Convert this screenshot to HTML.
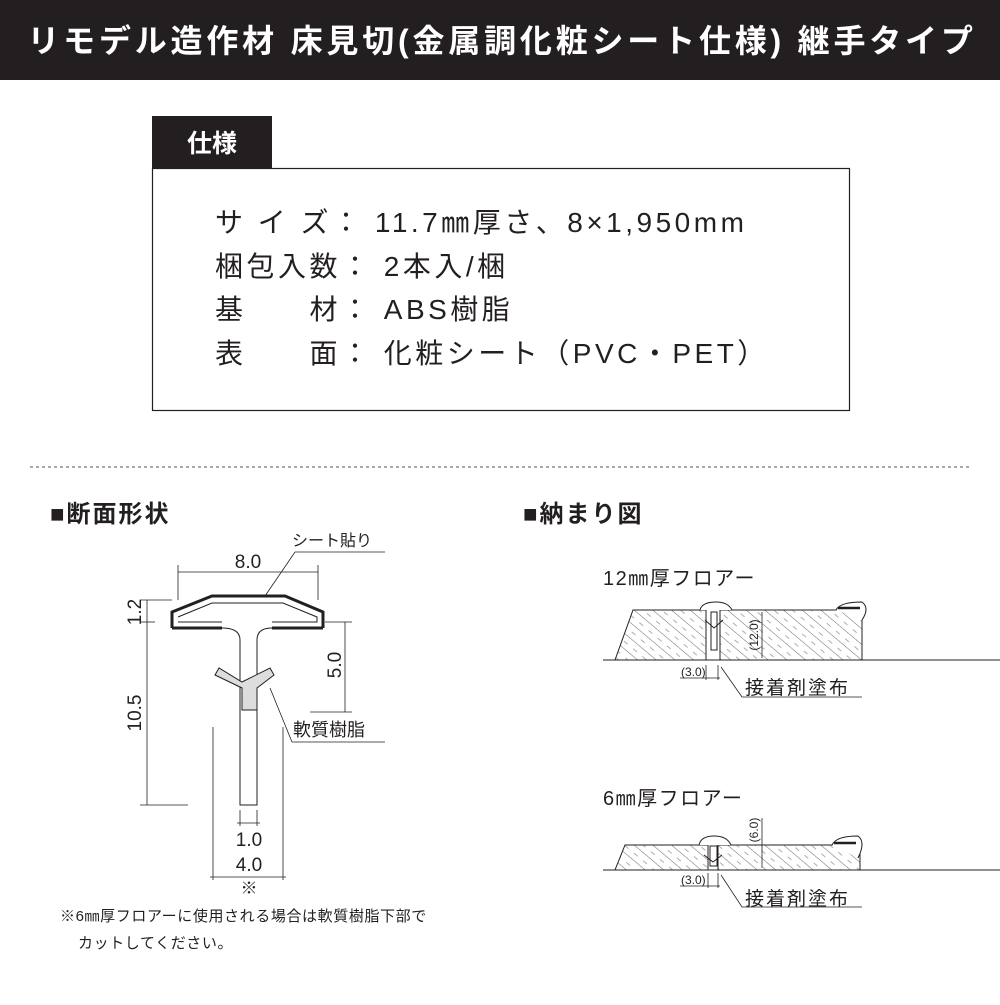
<!DOCTYPE html>
<html><head><meta charset="utf-8"><style>
body{margin:0;width:1000px;height:1000px;background:#fff;overflow:hidden;font-family:"Liberation Sans","Noto Sans CJK JP",sans-serif}
</style></head><body>
<svg width="1000" height="1000" viewBox="0 0 1000 1000" xmlns="http://www.w3.org/2000/svg" font-family="Liberation Sans, Noto Sans CJK JP, sans-serif">
<defs>
<pattern id="h" width="12" height="12" patternUnits="userSpaceOnUse" patternTransform="rotate(-50)">
<line x1="0" y1="0" x2="0" y2="12" stroke="#444" stroke-width="0.8"/>
<line x1="6" y1="2" x2="6" y2="7" stroke="#777" stroke-width="0.6"/>
</pattern>
</defs>
<rect x="0" y="0" width="1000" height="80" fill="#231f20"/>
<text x="502" y="52" text-anchor="middle" fill="#fff" font-size="32" font-weight="bold" letter-spacing="3.8">リモデル造作材 床見切(金属調化粧シート仕様) 継手タイプ</text>

<rect x="152" y="116" width="120" height="52" fill="#231f20"/>
<text x="212" y="152" text-anchor="middle" fill="#fff" font-size="25" font-weight="bold">仕様</text>
<rect x="152.5" y="168.5" width="697" height="242" fill="none" stroke="#231f20" stroke-width="1.2"/>
<g font-size="28" fill="#231f20" letter-spacing="3.5">
<text x="215" y="232">サ イ ズ： 11.7㎜厚さ、8×1,950mm</text>
<text x="215" y="276">梱包入数： 2本入/梱</text>
<text x="215" y="319">基　　材： ABS樹脂</text>
<text x="215" y="363">表　　面： 化粧シート（PVC・PET）</text>
</g>
<line x1="30" y1="467" x2="970" y2="467" stroke="#555" stroke-width="1" stroke-dasharray="3,3"/>

<text x="50" y="522" font-size="24" font-weight="bold" fill="#231f20" letter-spacing="2">■断面形状</text>
<text x="523" y="522" font-size="24" font-weight="bold" fill="#231f20" letter-spacing="2">■納まり図</text>

<!-- section -->
<g stroke="#231f20" fill="none">
<path d="M172 628 L172 612 L212 596 L285 596 L323 612 L323 628" stroke-width="3"/>
<path d="M172 628 L222 628 M272 628 L323 628" stroke-width="3"/>
<path d="M178 617 L212 603 L283 603 L317 617 L317 622 L272 622 M222 622 L178 622 Z" stroke-width="1"/>
<path d="M222 628 Q240 628 240 640 L240 805 L257 805 L257 640 Q257 628 272 628" stroke-width="1"/>
<path d="M215 675 L219 668 L242 682 L270 668 L274 675 L257 688 L257 710 L242 710 L242 688 Z" fill="#ddd" stroke-width="1"/>
<g stroke-width="0.8">
<line x1="178" y1="572" x2="318" y2="572"/><line x1="178" y1="565" x2="178" y2="600"/><line x1="318" y1="565" x2="318" y2="600"/>
<line x1="147" y1="600" x2="147" y2="805"/><line x1="140" y1="600" x2="172" y2="600"/><line x1="140" y1="622" x2="155" y2="622"/><line x1="140" y1="805" x2="188" y2="805"/>
<line x1="345" y1="622" x2="345" y2="712"/><line x1="325" y1="622" x2="352" y2="622"/><line x1="310" y1="712" x2="352" y2="712"/>
<line x1="240" y1="810" x2="240" y2="826"/><line x1="257" y1="810" x2="257" y2="826"/><line x1="237" y1="823" x2="260" y2="823"/>
<line x1="213" y1="727" x2="213" y2="880"/><line x1="283" y1="727" x2="283" y2="880"/><line x1="210" y1="877" x2="286" y2="877"/>
<path d="M265 596 L295 552 L385 552"/>
<path d="M270 688 L292 742 L385 742"/>
</g>
</g>
<g fill="#231f20" font-size="19">
<text x="248" y="568" text-anchor="middle">8.0</text>
<text x="292" y="546" font-size="16">シート貼り</text>
<text transform="translate(141,612) rotate(-90)" text-anchor="middle">1.2</text>
<text transform="translate(141,713) rotate(-90)" text-anchor="middle">10.5</text>
<text transform="translate(341,665) rotate(-90)" text-anchor="middle">5.0</text>
<text x="293" y="736" font-size="18">軟質樹脂</text>
<text x="249" y="846" text-anchor="middle">1.0</text>
<text x="249" y="871" text-anchor="middle">4.0</text>
<text x="249" y="894" text-anchor="middle" font-size="17">※</text>
<text x="60" y="921" font-size="15" letter-spacing="0.6">※6㎜厚フロアーに使用される場合は軟質樹脂下部で</text>
<text x="78" y="948" font-size="15" letter-spacing="0.6">カットしてください。</text>
</g>

<!-- 12mm -->
<g fill="#231f20">
<text x="603" y="585" font-size="20" letter-spacing="1.5">12㎜厚フロアー</text>
<text x="603" y="805" font-size="20" letter-spacing="1.5">6㎜厚フロアー</text>
</g>
<g stroke="#231f20" stroke-width="1">
<polygon points="633,610 706,610 706,660 615,660" fill="url(#h)"/>
<polygon points="720,610 862,610 862,660 720,660" fill="url(#h)"/>
<line x1="603" y1="660" x2="1000" y2="660"/>
<path d="M700 610 Q702 602 716 602 Q728 602 732 610" fill="#fff"/>
<rect x="711" y="612" width="6" height="38" fill="#fff"/>
<path d="M705 620 L714 628 L723 620" fill="none"/>
<path d="M836 610 Q840 602 862 602 Q870 608 862 620" fill="#fff"/>
<line x1="838" y1="608" x2="860" y2="608" stroke-width="2.5"/>
<line x1="762" y1="612" x2="762" y2="658" stroke-width="0.8"/>
<line x1="706" y1="665" x2="706" y2="680" stroke-width="0.8"/><line x1="718" y1="665" x2="718" y2="680" stroke-width="0.8"/>
<line x1="680" y1="678" x2="720" y2="678" stroke-width="0.8"/>
<path d="M721 667 L742 697 L862 697" fill="none" stroke-width="0.8"/>
</g>
<g fill="#231f20">
<text transform="translate(758,635) rotate(-90)" text-anchor="middle" font-size="12">(12.0)</text>
<text x="681" y="676" font-size="12">(3.0)</text>
<text x="745" y="694" font-size="19" letter-spacing="2">接着剤塗布</text>
</g>

<!-- 6mm -->
<g stroke="#231f20" stroke-width="1">
<polygon points="625,845 708,845 708,870 615,870" fill="url(#h)"/>
<polygon points="718,845 860,845 860,870 718,870" fill="url(#h)"/>
<line x1="603" y1="870" x2="1000" y2="870"/>
<path d="M699 845 Q701 836 714 836 Q727 836 731 845" fill="#fff"/>
<rect x="710" y="846" width="7" height="20" fill="#fff"/>
<path d="M704 855 L713 862 L722 855" fill="none"/>
<path d="M832 845 Q836 836 858 836 Q866 842 858 858" fill="#fff"/>
<line x1="834" y1="843" x2="856" y2="843" stroke-width="2.5"/>
<line x1="762" y1="818" x2="762" y2="868" stroke-width="0.8"/>
<line x1="708" y1="873" x2="708" y2="888" stroke-width="0.8"/><line x1="718" y1="873" x2="718" y2="888" stroke-width="0.8"/>
<line x1="680" y1="886" x2="720" y2="886" stroke-width="0.8"/>
<path d="M721 875 L742 907 L862 907" fill="none" stroke-width="0.8"/>
</g>
<g fill="#231f20">
<text transform="translate(758,830) rotate(-90)" text-anchor="middle" font-size="12">(6.0)</text>
<text x="681" y="884" font-size="12">(3.0)</text>
<text x="745" y="905" font-size="19" letter-spacing="2">接着剤塗布</text>
</g>
</svg>
</body></html>
